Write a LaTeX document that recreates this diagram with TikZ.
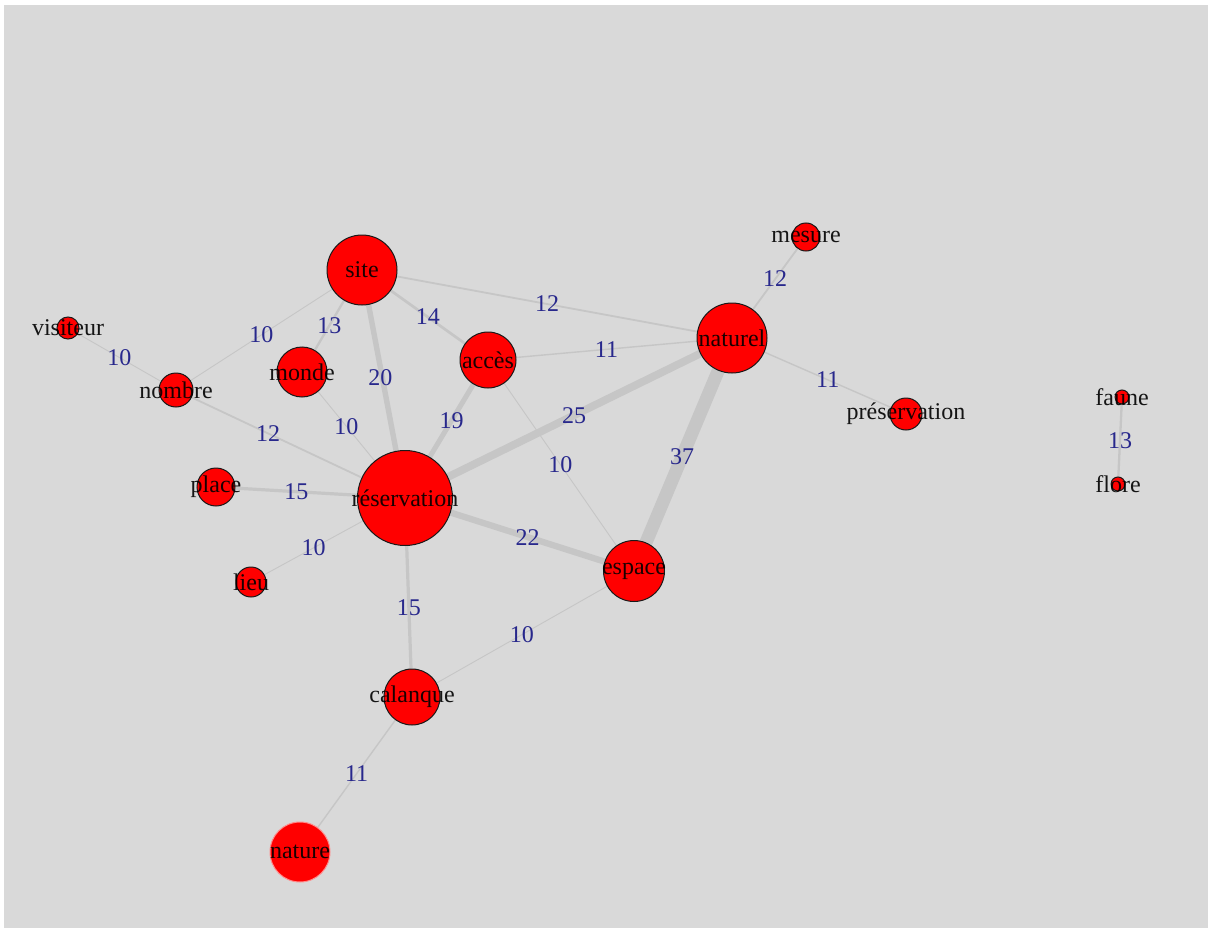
\documentclass[tikz,border=0pt]{standalone}
\usepackage{fontspec}
\setmainfont{Liberation Serif}
\usepackage{tikz}
\definecolor{canvas}{RGB}{217,217,217}
\definecolor{edgegray}{RGB}{198,198,198}
\definecolor{wblue}{RGB}{40,40,140}
\pgfdeclarelayer{canvaslayer}
\pgfdeclarelayer{edgelayer}
\pgfsetlayers{canvaslayer,edgelayer,main}

\begin{document}
\begin{tikzpicture}[
      x=1pt,y=-1pt,
      vertex/.style={circle,draw=black!90,line width=1pt,fill=red,inner sep=0pt,minimum size=#1,
        label={[font=\fontsize{24}{26}\selectfont,text=black,text opacity=0.9,inner sep=0pt]center:\vlabel}},
      edge/.style={draw=edgegray},
      wgt/.style={line width=#1pt},
      elabel/.style={midway,font=\fontsize{24}{26}\selectfont,text=wblue,inner sep=0pt}
    ]
    \useasboundingbox (0,0) rectangle (1210,931);
    \begin{pgfonlayer}{canvaslayer}
      \fill[canvas] (4,5) rectangle (1208,928);
    \end{pgfonlayer}
    % vertices
    \def\vlabel{site}\node[vertex=70pt] (site) at (362,270) {};
    \def\vlabel{visiteur}\node[vertex=22pt] (visiteur) at (68,328) {};
    \def\vlabel{nombre}\node[vertex=34pt] (nombre) at (176,390) {};
    \def\vlabel{monde}\node[vertex=50pt] (monde) at (302,372) {};
    \def\vlabel{accès}\node[vertex=56pt] (acces) at (488,360) {};
    \def\vlabel{réservation}\node[vertex=95pt] (reservation) at (405,498) {};
    \def\vlabel{espace}\node[vertex=61pt] (espace) at (634,571) {};
    \def\vlabel{naturel}\node[vertex=70pt] (naturel) at (732,338) {};
    \def\vlabel{mesure}\node[vertex=28pt] (mesure) at (806,237) {};
    \def\vlabel{préservation}\node[vertex=32pt] (preservation) at (906,414) {};
    \def\vlabel{faune}\node[vertex=14pt] (faune) at (1122,397) {};
    \def\vlabel{flore}\node[vertex=14pt] (flore) at (1118,484) {};
    \def\vlabel{place}\node[vertex=38pt] (place) at (216,487) {};
    \def\vlabel{lieu}\node[vertex=30pt] (lieu) at (251,582) {};
    \def\vlabel{calanque}\node[vertex=56pt] (calanque) at (412,697) {};
    \def\vlabel{nature}\node[vertex=60pt,draw=red!45!white] (nature) at (300,852) {};
    % weighted edges
    \begin{pgfonlayer}{edgelayer}
      \draw[edge,wgt=0.9] (visiteur) -- node[elabel]{10} (nombre);
      \draw[edge,wgt=0.9] (nombre) -- node[elabel]{10} (site);
      \draw[edge,wgt=1.8] (nombre) -- node[elabel,pos=0.45]{12} (reservation);
      \draw[edge,wgt=2.3] (site) -- node[elabel]{13} (monde);
      \draw[edge,wgt=5.4] (site) -- node[elabel,xshift=-2pt]{20} (reservation);
      \draw[edge,wgt=2.7] (site) -- node[elabel]{14} (acces);
      \draw[edge,wgt=1.8] (site) -- node[elabel]{12} (naturel);
      \draw[edge,wgt=0.9] (monde) -- node[elabel]{10} (reservation);
      \draw[edge,wgt=1.4] (acces) -- node[elabel]{11} (naturel);
      \draw[edge,wgt=5.0] (acces) -- node[elabel]{19} (reservation);
      \draw[edge,wgt=0.9] (acces) -- node[elabel]{10} (espace);
      \draw[edge,wgt=7.7] (reservation) -- node[elabel]{25} (naturel);
      \draw[edge,wgt=13] (naturel) -- node[elabel]{37} (espace);
      \draw[edge,wgt=1.8] (naturel) -- node[elabel]{12} (mesure);
      \draw[edge,wgt=1.4] (naturel) -- node[elabel]{11} (preservation);
      \draw[edge,wgt=6.3] (reservation) -- node[elabel]{22} (espace);
      \draw[edge,wgt=3.2] (place) -- node[elabel]{15} (reservation);
      \draw[edge,wgt=0.9] (lieu) -- node[elabel]{10} (reservation);
      \draw[edge,wgt=3.2] (reservation) -- node[elabel]{15} (calanque);
      \draw[edge,wgt=0.9] (espace) -- node[elabel]{10} (calanque);
      \draw[edge,wgt=1.4] (calanque) -- node[elabel]{11} (nature);
      \draw[edge,wgt=2.3] (faune) -- node[elabel]{13} (flore);
    \end{pgfonlayer}
  \end{tikzpicture}
\end{document}
